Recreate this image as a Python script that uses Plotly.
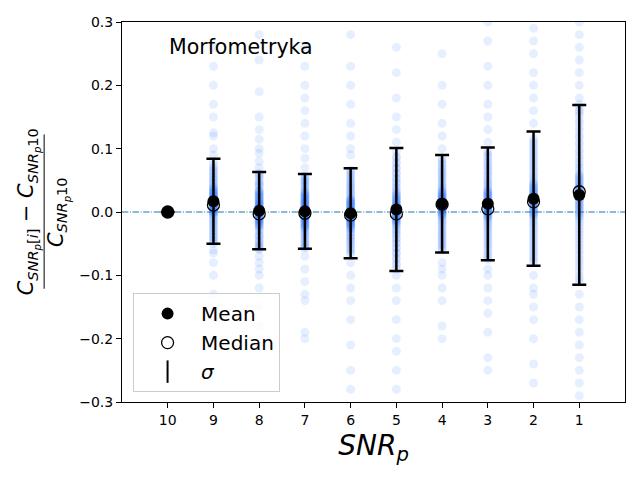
import plotly.graph_objects as go

# ---- data ----
snr_labels = ["10", "9", "8", "7", "6", "5", "4", "3", "2", "1"]
mean_vals = [0.0, 0.017, 0.002, 0.001, -0.002, 0.004, 0.013, 0.013, 0.021, 0.027]
median_vals = [0.0, 0.011, -0.003, -0.002, -0.005, -0.003, 0.012, 0.005, 0.016, 0.032]
sigma_vals = [0.0, 0.067, 0.061, 0.059, 0.071, 0.097, 0.077, 0.089, 0.106, 0.142]

pts_10 = [0.0, 0.0, 0.0, 0.0]
pts_9 = [0.0, 0.005, 0.01, 0.015, 0.02, 0.025, 0.03, -0.005, -0.01, 0.012, 0.018, 0.022,
         0.008, 0.003, 0.028, 0.035, 0.04, 0.045, 0.05, -0.015, -0.02, -0.025, -0.03, -0.035,
         0.06, 0.055, -0.04, -0.045, 0.065, 0.07, 0.016, 0.019, 0.024, 0.002, -0.002, 0.032,
         0.038, 0.011, 0.014, 0.021,
         0.017, 0.013, 0.021, 0.009, 0.025, 0.005, 0.029, 0.001, 0.033, -0.003, 0.037, -0.007,
         0.041, -0.012, 0.046, -0.017, 0.051, -0.022, 0.056, -0.028, 0.062, -0.034, 0.068, -0.04,
         0.074, -0.046, 0.08, -0.05, 0.015, 0.019, 0.011, 0.023, 0.007, 0.027, 0.003, 0.031,
         -0.001, 0.035, 0.016, 0.018,
         0.09, 0.1, 0.12, 0.125, 0.15, 0.17, 0.2, 0.23, 0.26,
         -0.06, -0.065, -0.08, -0.1, -0.13, -0.17, -0.2]
pts_8 = [0.0, 0.004, -0.004, 0.008, -0.008, 0.012, -0.012, 0.016, -0.016, 0.021, -0.019, 0.026,
         -0.024, 0.031, -0.029, 0.034, -0.036, 0.041, -0.039, 0.044, -0.046, 0.049, -0.051, 0.056,
         -0.054, 0.061, -0.058, 0.002, 0.006, -0.002, 0.011, -0.006, 0.013, 0.018, -0.011, 0.023,
         -0.014, 0.027, -0.022, 0.033,
         0.002, -0.001, 0.005, -0.005, 0.009, -0.009, 0.013, -0.013, 0.017, -0.017, 0.022, -0.021,
         0.027, -0.026, 0.032, -0.031, 0.037, -0.037, 0.043, -0.043, 0.048, -0.048, 0.054, -0.054,
         0.059, -0.059, 0.001, 0.003, 0.0, 0.007, -0.003, 0.011, -0.007, 0.015, -0.011, 0.019,
         -0.015, 0.024, -0.019, 0.029,
         0.07, 0.08, 0.093, 0.1, 0.115, 0.13, 0.15, 0.19, 0.24, 0.28,
         -0.07, -0.08, -0.09, -0.1, -0.12, -0.15, -0.18]
pts_7 = [0.001, 0.003, -0.003, 0.007, -0.007, 0.011, -0.011, 0.015, -0.015, 0.019, -0.019, 0.024,
         -0.024, 0.029, -0.028, 0.033, -0.034, 0.038, -0.038, 0.043, -0.044, 0.048, -0.049, 0.052,
         -0.053, 0.057, -0.057, 0.0, 0.005, -0.001, 0.009, -0.005, 0.013, 0.017, -0.009, 0.021,
         -0.013, 0.026, -0.021, 0.031,
         0.001, -0.002, 0.004, -0.006, 0.008, -0.01, 0.012, -0.014, 0.016, -0.018, 0.021, -0.022,
         0.025, -0.026, 0.03, -0.031, 0.035, -0.036, 0.04, -0.041, 0.045, -0.046, 0.05, -0.051,
         0.055, -0.056, 0.002, 0.0, 0.006, -0.004, 0.01, -0.008, 0.014, -0.012, 0.018, -0.016,
         0.023, -0.02, 0.027, -0.025,
         0.07, 0.085, 0.1, 0.12, 0.14, 0.16, 0.18, 0.2, 0.23, 0.26,
         -0.07, -0.09, -0.11, -0.13, -0.14, -0.19, -0.2]
pts_6 = [-0.002, 0.002, -0.006, 0.006, -0.01, 0.01, -0.014, 0.014, -0.018, 0.018, -0.022, 0.023,
         -0.027, 0.028, -0.032, 0.033, -0.037, 0.038, -0.042, 0.043, -0.047, 0.048, -0.053, 0.054,
         -0.059, 0.06, -0.066, 0.066, -0.004, 0.0, -0.008, 0.004, -0.012, 0.008, -0.016, 0.012,
         -0.02, 0.016, -0.025, 0.02,
         -0.002, 0.001, -0.005, 0.005, -0.009, 0.009, -0.013, 0.013, -0.017, 0.017, -0.021, 0.021,
         -0.026, 0.026, -0.031, 0.031, -0.036, 0.036, -0.041, 0.041, -0.046, 0.046, -0.052, 0.052,
         -0.058, 0.058, -0.064, 0.064, -0.003, -0.001, -0.007, 0.003, -0.011, 0.007, -0.015, 0.011,
         -0.019, 0.015, -0.024, 0.019,
         0.09, 0.1, 0.12, 0.14, 0.17, 0.2, 0.23, 0.28,
         -0.08, -0.1, -0.12, -0.14, -0.17, -0.21, -0.25, -0.28]
pts_5 = [0.004, 0.0, 0.008, -0.004, 0.012, -0.008, 0.017, -0.013, 0.022, -0.018, 0.028, -0.024,
         0.034, -0.03, 0.04, -0.036, 0.047, -0.043, 0.054, -0.05, 0.062, -0.058, 0.07, -0.066,
         0.079, -0.075, 0.088, -0.084, 0.096, -0.09, 0.002, 0.006, -0.002, 0.01, -0.006, 0.014,
         -0.01, 0.019, -0.015, 0.025,
         0.004, 0.001, 0.007, -0.003, 0.011, -0.007, 0.015, -0.011, 0.02, -0.016, 0.026, -0.022,
         0.032, -0.028, 0.038, -0.034, 0.045, -0.041, 0.052, -0.048, 0.06, -0.056, 0.068, -0.064,
         0.076, -0.072, 0.085, -0.081, 0.003, 0.005, 0.0, 0.009, -0.005, 0.013, -0.009, 0.018,
         -0.013, 0.023, -0.019, 0.029,
         0.11, 0.13, 0.15, 0.18, 0.22, 0.26,
         -0.1, -0.12, -0.14, -0.17, -0.2, -0.22, -0.25, -0.28]
pts_4 = [0.013, 0.009, 0.017, 0.005, 0.021, 0.001, 0.025, -0.003, 0.03, -0.008, 0.035, -0.013,
         0.04, -0.018, 0.046, -0.024, 0.052, -0.03, 0.058, -0.036, 0.064, -0.042, 0.07, -0.048,
         0.077, -0.054, 0.084, -0.06, 0.011, 0.015, 0.007, 0.019, 0.003, 0.023, -0.001, 0.027,
         0.012, 0.014, 0.033, -0.006,
         0.013, 0.011, 0.016, 0.007, 0.02, 0.003, 0.024, -0.001, 0.028, -0.005, 0.033, -0.01,
         0.038, -0.015, 0.043, -0.021, 0.049, -0.027, 0.055, -0.033, 0.061, -0.039, 0.067, -0.045,
         0.074, -0.051, 0.081, -0.057, 0.012, 0.014, 0.009, 0.018, 0.005, 0.022, 0.001, 0.026,
         -0.003, 0.031, 0.015, 0.01,
         0.1, 0.12, 0.14, 0.17, 0.2, 0.25,
         -0.08, -0.09, -0.1, -0.12, -0.14, -0.18, -0.2]
pts_3 = [0.013, 0.008, 0.018, 0.003, 0.023, -0.002, 0.028, -0.007, 0.034, -0.013, 0.04, -0.019,
         0.046, -0.025, 0.052, -0.031, 0.059, -0.038, 0.066, -0.045, 0.073, -0.052, 0.08, -0.06,
         0.088, -0.068, 0.096, -0.075, 0.005, 0.01, 0.0, 0.015, -0.004, 0.02, 0.006, 0.026,
         -0.01, 0.031, 0.004, 0.012,
         0.013, 0.01, 0.016, 0.006, 0.021, 0.001, 0.026, -0.004, 0.031, -0.01, 0.037, -0.016,
         0.043, -0.022, 0.049, -0.028, 0.056, -0.035, 0.063, -0.042, 0.07, -0.049, 0.077, -0.056,
         0.085, -0.064, 0.092, -0.071, 0.011, 0.015, 0.008, 0.019, 0.004, 0.024, -0.001, 0.029,
         -0.007, 0.034, 0.012, 0.014,
         0.11, 0.13, 0.15, 0.17, 0.2, 0.23, 0.27, 0.3,
         -0.09, -0.1, -0.12, -0.14, -0.16, -0.19, -0.23, -0.25]
pts_2 = [0.021, 0.015, 0.027, 0.009, 0.033, 0.003, 0.039, -0.003, 0.046, -0.01, 0.053, -0.017,
         0.06, -0.024, 0.068, -0.032, 0.076, -0.04, 0.084, -0.048, 0.092, -0.056, 0.1, -0.064,
         0.108, -0.072, 0.116, -0.08, 0.016, 0.018, 0.012, 0.024, 0.006, 0.03, 0.0, 0.036,
         -0.006, 0.042, 0.019, 0.013,
         0.021, 0.018, 0.024, 0.012, 0.03, 0.006, 0.036, 0.0, 0.042, -0.006, 0.049, -0.013,
         0.056, -0.02, 0.064, -0.028, 0.072, -0.036, 0.08, -0.044, 0.088, -0.052, 0.096, -0.06,
         0.104, -0.068, 0.112, -0.076, 0.02, 0.022, 0.016, 0.026, 0.01, 0.032, 0.004, 0.038,
         -0.002, 0.045, 0.014, 0.028,
         0.14, 0.16, 0.18, 0.2, 0.22, 0.25, 0.27, 0.29,
         -0.1, -0.12, -0.13, -0.15, -0.17, -0.2, -0.24, -0.27]
pts_1 = [0.027, 0.032, 0.02, 0.038, 0.013, 0.045, 0.005, 0.053, -0.003, 0.061, -0.012, 0.07,
         -0.021, 0.079, -0.031, 0.089, -0.041, 0.099, -0.052, 0.11, -0.063, 0.121, -0.075, 0.133,
         -0.087, 0.145, -0.1, 0.157, -0.11, 0.165, 0.03, 0.024, 0.035, 0.017, 0.041, 0.009,
         0.049, 0.001, 0.057, -0.008,
         0.027, 0.029, 0.023, 0.035, 0.016, 0.042, 0.009, 0.05, 0.001, 0.058, -0.007, 0.066,
         -0.016, 0.075, -0.026, 0.085, -0.036, 0.095, -0.047, 0.106, -0.058, 0.117, -0.069, 0.128,
         -0.081, 0.14, -0.093, 0.152, -0.105, 0.16, 0.028, 0.025, 0.033, 0.02, 0.039, 0.012,
         0.046, 0.005, 0.054, -0.003,
         0.17, 0.18, 0.2, 0.22, 0.24, 0.26, 0.28, 0.3,
         -0.13, -0.15, -0.17, -0.19, -0.21, -0.23, -0.25, -0.27, -0.29]

all_pts = [pts_10, pts_9, pts_8, pts_7, pts_6, pts_5, pts_4, pts_3, pts_2, pts_1]

# ---- figure ----
fig = go.Figure()

px_x, px_y = [], []
for i, pts in enumerate(all_pts):
    px_x += [i] * len(pts)
    px_y += pts

fig.add_trace(go.Scatter(
    x=px_x, y=px_y, mode="markers", showlegend=False, hoverinfo="skip",
    marker=dict(size=9, color="rgb(25,105,255)", opacity=0.11, line=dict(width=0)),
))

xs = list(range(len(snr_labels)))
err = [s if s > 0 else None for s in sigma_vals]

# sigma error bars (drawn with an invisible marker)
fig.add_trace(go.Scatter(
    x=xs, y=mean_vals, mode="markers", showlegend=False, hoverinfo="skip",
    marker=dict(size=1, color="rgba(0,0,0,0)"),
    error_y=dict(type="data", array=err, visible=True, color="black",
                 thickness=2.5, width=7),
))
fig.add_trace(go.Scatter(
    x=xs, y=mean_vals, mode="markers", name="Mean",
    marker=dict(size=12, color="black", line=dict(width=0)),
))
fig.add_trace(go.Scatter(
    x=xs, y=median_vals, mode="markers", name="Median",
    marker=dict(size=12, color="black", symbol="circle-open", line=dict(width=1.3)),
))
# legend-only entry for sigma
fig.add_trace(go.Scatter(
    x=[None], y=[None], mode="markers", name="<i>σ</i>",
    marker=dict(size=18, color="black", symbol="line-ns-open", line=dict(width=2, color="black")),
))

fig.add_shape(type="line", xref="paper", x0=0, x1=1, yref="y", y0=0, y1=0,
              line=dict(color="#1f77b4", width=1, dash="6.4px,1.6px,1px,1.6px"), layer="below")

fig.add_annotation(text="Morfometryka", xref="paper", yref="paper", x=0.089, y=0.935,
                   xanchor="left", yanchor="middle", showarrow=False,
                   font=dict(size=20.5, color="black"))

# y-axis label as a fraction
num = ("<i>C</i><sub><i>SNR</i><sub><i>p</i></sub>[<i>i</i>]</sub> − "
       "<i>C</i><sub><i>SNR</i><sub><i>p</i></sub>10</sub>")
den = "<i>C</i><sub><i>SNR</i><sub><i>p</i></sub>10</sub>"
fig.add_annotation(text=num, xref="paper", yref="paper", x=-0.1865, y=0.5,
                   xanchor="center", yanchor="middle", textangle=-90, showarrow=False,
                   font=dict(size=20.8, color="black"))
fig.add_annotation(text=den, xref="paper", yref="paper", x=-0.127, y=0.5,
                   xanchor="center", yanchor="middle", textangle=-90, showarrow=False,
                   font=dict(size=20.8, color="black"))
fig.add_shape(type="line", xref="paper", yref="paper", x0=-0.1548, x1=-0.1548,
              y0=0.298, y1=0.704, line=dict(color="black", width=1))

# the page adds an 8px body margin, so the figure is sized to fit inside the window
fig.update_layout(
    width=624, height=464,
    margin=dict(l=114, r=6, t=12, b=70),
    paper_bgcolor="white", plot_bgcolor="white",
    font=dict(family="DejaVu Sans", color="black", size=14),
    showlegend=True,
    legend=dict(x=0.022, y=0.026, xanchor="left", yanchor="bottom",
                bgcolor="rgba(255,255,255,0.8)", bordercolor="#cccccc", borderwidth=1,
                font=dict(size=20), itemsizing="trace", itemwidth=57, tracegroupgap=0),
    xaxis=dict(range=[-1, 10], tickvals=xs, ticktext=snr_labels,
               showline=True, linecolor="black", linewidth=1, mirror=True,
               ticks="outside", ticklen=5, tickcolor="black", showgrid=False, zeroline=False,
               title=dict(text="<i>SNR</i><sub><i>p</i></sub>", font=dict(size=28), standoff=8)),
    yaxis=dict(range=[-0.3, 0.3], tickvals=[-0.3, -0.2, -0.1, 0.0, 0.1, 0.2, 0.3],
               tickformat=".1f",
               showline=True, linecolor="black", linewidth=1, mirror=True,
               ticks="outside", ticklen=5, tickcolor="black", showgrid=False, zeroline=False),
)

fig.write_html("out.html")
